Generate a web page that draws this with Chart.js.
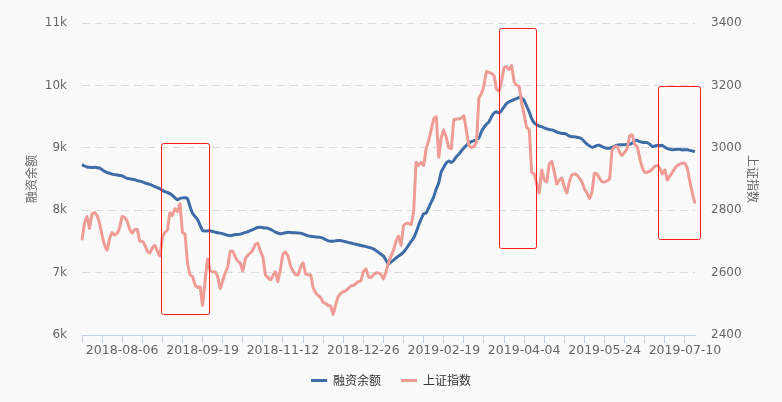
<!DOCTYPE html>
<html>
<head>
<meta charset="utf-8">
<script src="https://cdn.jsdelivr.net/npm/chart.js@4.4.0/dist/chart.umd.min.js"></script>
<style>
  html, body { margin: 0; padding: 0; background: #fafafa; }
  #chart { display: block; }
</style>
</head>
<body>
<canvas id="chart" width="782" height="402"></canvas>
<script>
// 融资余额 (left axis) and 上证指数 (right axis), one value per trading day from 2018-07-13
const financing = [
  8732, 8710, 8695, 8689, 8685, 8690, 8682, 8678, 8650, 8625,
  8605, 8594, 8580, 8572, 8565, 8558, 8552, 8530, 8512, 8504,
  8498, 8490, 8475, 8468, 8455, 8440, 8425, 8416, 8398, 8380,
  8362, 8346, 8320, 8300, 8285, 8267, 8240, 8200, 8167, 8190,
  8199, 8200, 8188, 8060, 7951, 7900, 7851, 7760, 7672, 7668,
  7670, 7672, 7660, 7650, 7640, 7634, 7625, 7610, 7600, 7593,
  7600, 7610, 7612, 7618, 7630, 7645, 7655, 7672, 7690, 7710,
  7725, 7729, 7720, 7715, 7713, 7695, 7672, 7650, 7635, 7622,
  7630, 7640, 7648, 7645, 7640, 7640, 7636, 7634, 7620, 7605,
  7590, 7582, 7578, 7572, 7568, 7566, 7550, 7530, 7510, 7503,
  7505, 7510, 7515, 7514, 7505, 7495, 7485, 7476, 7465, 7455,
  7445, 7435, 7428, 7418, 7405, 7397, 7380, 7356, 7325, 7295,
  7266, 7200, 7134, 7170, 7202, 7235, 7265, 7295, 7329, 7380,
  7440, 7500, 7555, 7650, 7760, 7860, 7945, 7955, 8040, 8130,
  8215, 8340, 8440, 8620, 8690, 8760, 8790, 8765, 8800, 8859,
  8900, 8950, 9000, 9040, 9080, 9100, 9115, 9130, 9160, 9260,
  9330, 9380, 9420, 9500, 9560, 9580, 9560, 9600, 9660, 9710,
  9740, 9760, 9775, 9790, 9810, 9800, 9760, 9670, 9580, 9470,
  9401, 9370, 9350, 9340, 9320, 9305, 9295, 9290, 9275, 9255,
  9243, 9230, 9230, 9215, 9191, 9180, 9180, 9170, 9164, 9140,
  9100, 9060, 9030, 9010, 9020, 9040, 9042, 9020, 9005, 8995,
  8995, 9010, 9030, 9045, 9049, 9050, 9052, 9055, 9058, 9080,
  9110, 9121, 9100, 9090, 9085, 9085, 9060, 9022, 9030, 9042,
  9040, 9042, 9010, 8990, 8979, 8970, 8975, 8980, 8979, 8965,
  8972, 8969, 8960, 8950, 8943
];

const sseIndex = [
  2704, 2758, 2780, 2742, 2789, 2792, 2783, 2758, 2720, 2688,
  2672, 2710, 2729, 2720, 2726, 2745, 2780, 2777, 2764, 2739,
  2726, 2739, 2739, 2701, 2701, 2688, 2669, 2663, 2679, 2688,
  2669, 2653, 2713, 2729, 2736, 2792, 2783, 2805, 2796, 2821,
  2729, 2723, 2631, 2593, 2587, 2561, 2552, 2555, 2495, 2574,
  2644, 2606, 2603, 2603, 2587, 2549, 2574, 2599, 2618, 2669,
  2669, 2650, 2637, 2631, 2606, 2644, 2656, 2663, 2672, 2691,
  2694, 2669, 2650, 2593, 2584, 2577, 2590, 2603, 2571, 2612,
  2660, 2666, 2653, 2622, 2606, 2593, 2593, 2618, 2631, 2596,
  2593, 2593, 2552, 2536, 2527, 2520, 2504, 2501, 2495, 2492,
  2466, 2498, 2523, 2533, 2539, 2542, 2549, 2558, 2558, 2565,
  2571, 2574, 2603, 2612, 2587, 2584, 2593, 2599, 2599, 2593,
  2580, 2603, 2631, 2653, 2672, 2701, 2717, 2688, 2751, 2758,
  2758, 2754, 2796, 2954, 2944, 2954, 2944, 2998, 3024, 3058,
  3093, 3100, 2970, 3033, 3058, 3033, 3001, 2998, 3090, 3093,
  3093, 3096, 3103, 3055, 3008, 3001, 3005, 3017, 3160, 3175,
  3201, 3245, 3242, 3239, 3232, 3188, 3182, 3213, 3258, 3261,
  3251, 3264, 3213, 3201, 3198, 3144, 3106, 3065, 3059, 2922,
  2916, 2884, 2856, 2929, 2897, 2891, 2948, 2957, 2922, 2884,
  2897, 2903, 2875, 2856, 2891, 2913, 2916, 2913, 2903, 2891,
  2868, 2856, 2837, 2859, 2919, 2916, 2903, 2891, 2891, 2894,
  2900, 2992, 3005, 3005, 2986, 2976, 2986, 2998, 3039, 3042,
  3011, 3005, 2967, 2938, 2922, 2922, 2925, 2932, 2941, 2944,
  2935, 2916, 2929, 2897, 2910, 2922, 2935, 2944, 2948, 2951,
  2951, 2932, 2891, 2853, 2821
];

const tickLabels = ['2018-08-06', '2018-09-19', '2018-11-12', '2018-12-26',
  '2019-02-19', '2019-04-04', '2019-05-24', '2019-07-10'];

// market closed on these weekdays
const holidays = [
  '2018-09-24', '2018-10-01', '2018-10-02', '2018-10-03', '2018-10-04', '2018-10-05',
  '2018-12-31', '2019-01-01', '2019-02-04', '2019-02-05', '2019-02-06', '2019-02-07',
  '2019-02-08', '2019-04-05', '2019-05-01', '2019-05-02', '2019-05-03', '2019-06-07'
];

// highlighted periods: category index range, 融资余额 value range
const boxes = [
  { from: 31.3, to: 50.6, top: 9080, bottom: 6330 },
  { from: 166.1, to: 180.7, top: 10930, bottom: 7405 },
  { from: 229.4, to: 246.1, top: 10000, bottom: 7550 }
];

function tradingDays(start, count) {
  let out = [];
  let d = new Date(start + 'T00:00:00Z');
  while (out.length < count) {
    let s = d.toISOString().slice(0, 10);
    let wd = d.getUTCDay();
    if (wd !== 0 && wd !== 6 && !holidays.includes(s)) out.push(s);
    d.setUTCDate(d.getUTCDate() + 1);
  }
  return out;
}

const dates = tradingDays('2018-07-13', financing.length);

const FONT = "'DejaVu Sans', 'Noto Sans CJK SC', sans-serif";
const CJK = "'Noto Sans CJK SC', sans-serif";

const boxPlugin = {
  id: 'boxes',
  afterDatasetsDraw(chart) {
    let ctx = chart.ctx;
    let x = chart.scales.x;
    let y = chart.scales.y;
    ctx.save();
    ctx.strokeStyle = '#ff1a1a';
    ctx.lineWidth = 1;
    boxes.forEach(b => {
      let x1 = x.getPixelForValue(b.from);
      let x2 = x.getPixelForValue(b.to);
      let y1 = y.getPixelForValue(b.top);
      let y2 = y.getPixelForValue(b.bottom);
      ctx.beginPath();
      ctx.roundRect(Math.round(x1) + 0.5, Math.round(y1) + 0.5, Math.round(x2 - x1), Math.round(y2 - y1), 2);
      ctx.stroke();
    });
    ctx.restore();
  }
};

new Chart(document.getElementById('chart'), {
  type: 'line',
  data: {
    labels: dates,
    datasets: [{
      label: '融资余额',
      data: financing,
      yAxisID: 'y',
      borderColor: '#3d6ca7',
      backgroundColor: '#3d6ca7',
      borderWidth: 3,
      pointRadius: 0,
      tension: 0.1,
      order: 1
    }, {
      label: '上证指数',
      data: sseIndex,
      yAxisID: 'y1',
      borderColor: '#ef9c96',
      backgroundColor: '#ef9c96',
      borderWidth: 3,
      pointRadius: 0,
      tension: 0.1,
      order: 0
    }]
  },
  options: {
    responsive: false,
    animation: false,
    devicePixelRatio: 1,
    layout: {
      padding: { top: 19, left: 0, right: 0, bottom: 5.5 }
    },
    plugins: {
      tooltip: { enabled: false },
      legend: {
        position: 'bottom',
        labels: {
          usePointStyle: true,
          pointStyle: 'line',
          pointStyleWidth: 16,
          padding: 20,
          color: '#333',
          font: { family: CJK, size: 12 },
          sort: (a, b) => a.datasetIndex - b.datasetIndex
        }
      }
    },
    scales: {
      x: {
        type: 'category',
        afterBuildTicks: scale => {
          scale.ticks = scale.ticks.filter((t, i) => i % 8 === 0);
        },
        afterFit: scale => { scale.height = 19.5; },
        ticks: {
          autoSkip: false,
          maxRotation: 0,
          padding: 0,
          color: '#666',
          font: { family: FONT, size: 12.5 },
          callback: function (value) {
            let d = dates[value];
            return tickLabels.includes(d) ? d : '';
          }
        },
        grid: {
          drawOnChartArea: false,
          drawTicks: true,
          tickLength: 8,
          color: '#c3cfdd'
        },
        border: { color: '#c3cfdd' }
      },
      y: {
        position: 'left',
        min: 6000,
        max: 11000,
        afterFit: scale => { scale.width = 82; },
        ticks: {
          stepSize: 1000,
          padding: 15,
          color: '#666',
          font: { family: FONT, size: 12 },
          callback: v => (v / 1000) + 'k'
        },
        grid: {
          color: '#dcdcdc',
          drawTicks: false
        },
        border: { display: false, dash: [8, 5] },
        title: {
          display: true,
          text: '融资余额',
          color: '#666',
          font: { family: CJK, size: 12 },
          padding: { top: 24, bottom: 0 }
        }
      },
      y1: {
        position: 'right',
        min: 2400,
        max: 3400,
        afterFit: scale => { scale.width = 87; },
        ticks: {
          stepSize: 200,
          padding: 16,
          color: '#666',
          font: { family: FONT, size: 12 },
          callback: v => String(v)
        },
        grid: { drawOnChartArea: false, drawTicks: false },
        border: { display: false },
        title: {
          display: true,
          text: '上证指数',
          color: '#666',
          font: { family: CJK, size: 12 },
          padding: { top: 22, bottom: 0 }
        }
      }
    }
  },
  plugins: [boxPlugin]
});
</script>
</body>
</html>
